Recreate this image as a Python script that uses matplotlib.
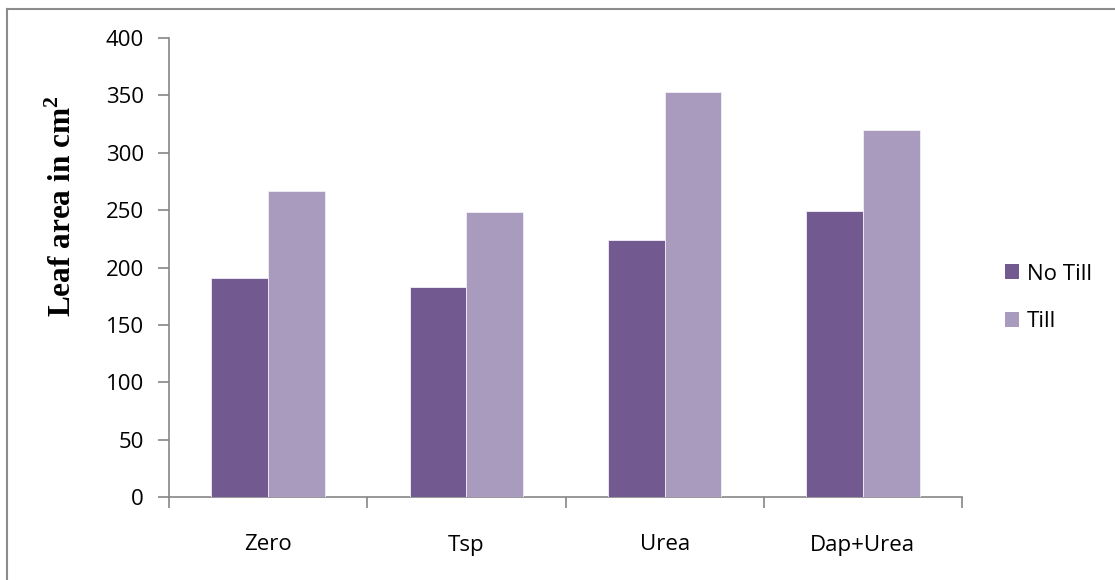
import matplotlib
matplotlib.use("Agg")
import matplotlib.pyplot as plt
from matplotlib.lines import Line2D
from matplotlib.patches import Patch
import numpy as np

categories = ["Zero", "Tsp", "Urea", "Dap+Urea"]
series_names = ["No Till", "Till"]
no_till = [191, 183, 224, 249]
till = [267, 248, 353, 320]
y_ticks = [0, 50, 100, 150, 200, 250, 300, 350, 400]

colors = ["#72598f", "#a99bbe"]
axis_gray = "#868686"

plt.rcParams["font.family"] = ["Open Sans", "DejaVu Sans"]
plt.rcParams["mathtext.fontset"] = "custom"
plt.rcParams["mathtext.rm"] = "Liberation Serif"
plt.rcParams["mathtext.bf"] = "Liberation Serif:bold"

W, H = 1115, 580
fig = plt.figure(figsize=(W / 100, H / 100), dpi=100)
ax = fig.add_axes([169 / W, 1 - 497 / H, (962 - 169) / W, (497 - 38) / H])

x = np.arange(len(categories))
w = 1 / 3.5
ax.bar(x - w / 2, no_till, width=w, color=colors[0], edgecolor="#f2eff6", linewidth=0.6, zorder=3)
ax.bar(x + w / 2, till, width=w, color=colors[1], edgecolor="#f2eff6", linewidth=0.6, zorder=3)

ax.set_xlim(-0.5, len(categories) - 0.5)
ax.set_ylim(0, 400)
ax.set_yticks(y_ticks)
ax.set_yticklabels([str(v) for v in y_ticks], fontsize=16)

# category boundaries carry the tick marks; names sit at the centres
ax.set_xticks(np.arange(len(categories) + 1) - 0.5)
ax.set_xticklabels([])
ax.set_xticks(x, minor=True)
ax.set_xticklabels(categories, minor=True, fontsize=16)
ax.tick_params(axis="x", which="major", direction="out", length=8, width=1.2, color=axis_gray)
ax.tick_params(axis="x", which="minor", length=0, pad=27)
ax.tick_params(axis="y", direction="out", length=8, width=1.2, color=axis_gray, pad=10)

for side in ("top", "right"):
    ax.spines[side].set_visible(False)
for side in ("left", "bottom"):
    ax.spines[side].set_color(axis_gray)
    ax.spines[side].set_linewidth(1.2)

fig.text(63 / W, 1 - 206 / H, r"Leaf area in cm$^{\mathbf{2}}$", rotation=90,
         ha="center", va="center", fontsize=22.5, fontweight="bold",
         family="Liberation Serif")

handles = [Patch(facecolor=c, edgecolor="none") for c in colors]
fig.legend(handles, series_names, loc="center left",
           bbox_to_anchor=(985 / W, 1 - 298 / H), frameon=False,
           fontsize=16, handlelength=0.65, handleheight=0.65,
           handletextpad=0.35, labelspacing=1.2)

# outer chart frame
fig.add_artist(Line2D([7 / W, 7 / W], [0, 1 - 9 / H], color="#8c8c8c", lw=1.5))
fig.add_artist(Line2D([7 / W, 1], [1 - 9 / H, 1 - 9 / H], color="#8c8c8c", lw=1.5))

fig.savefig("out.png", dpi=100)
